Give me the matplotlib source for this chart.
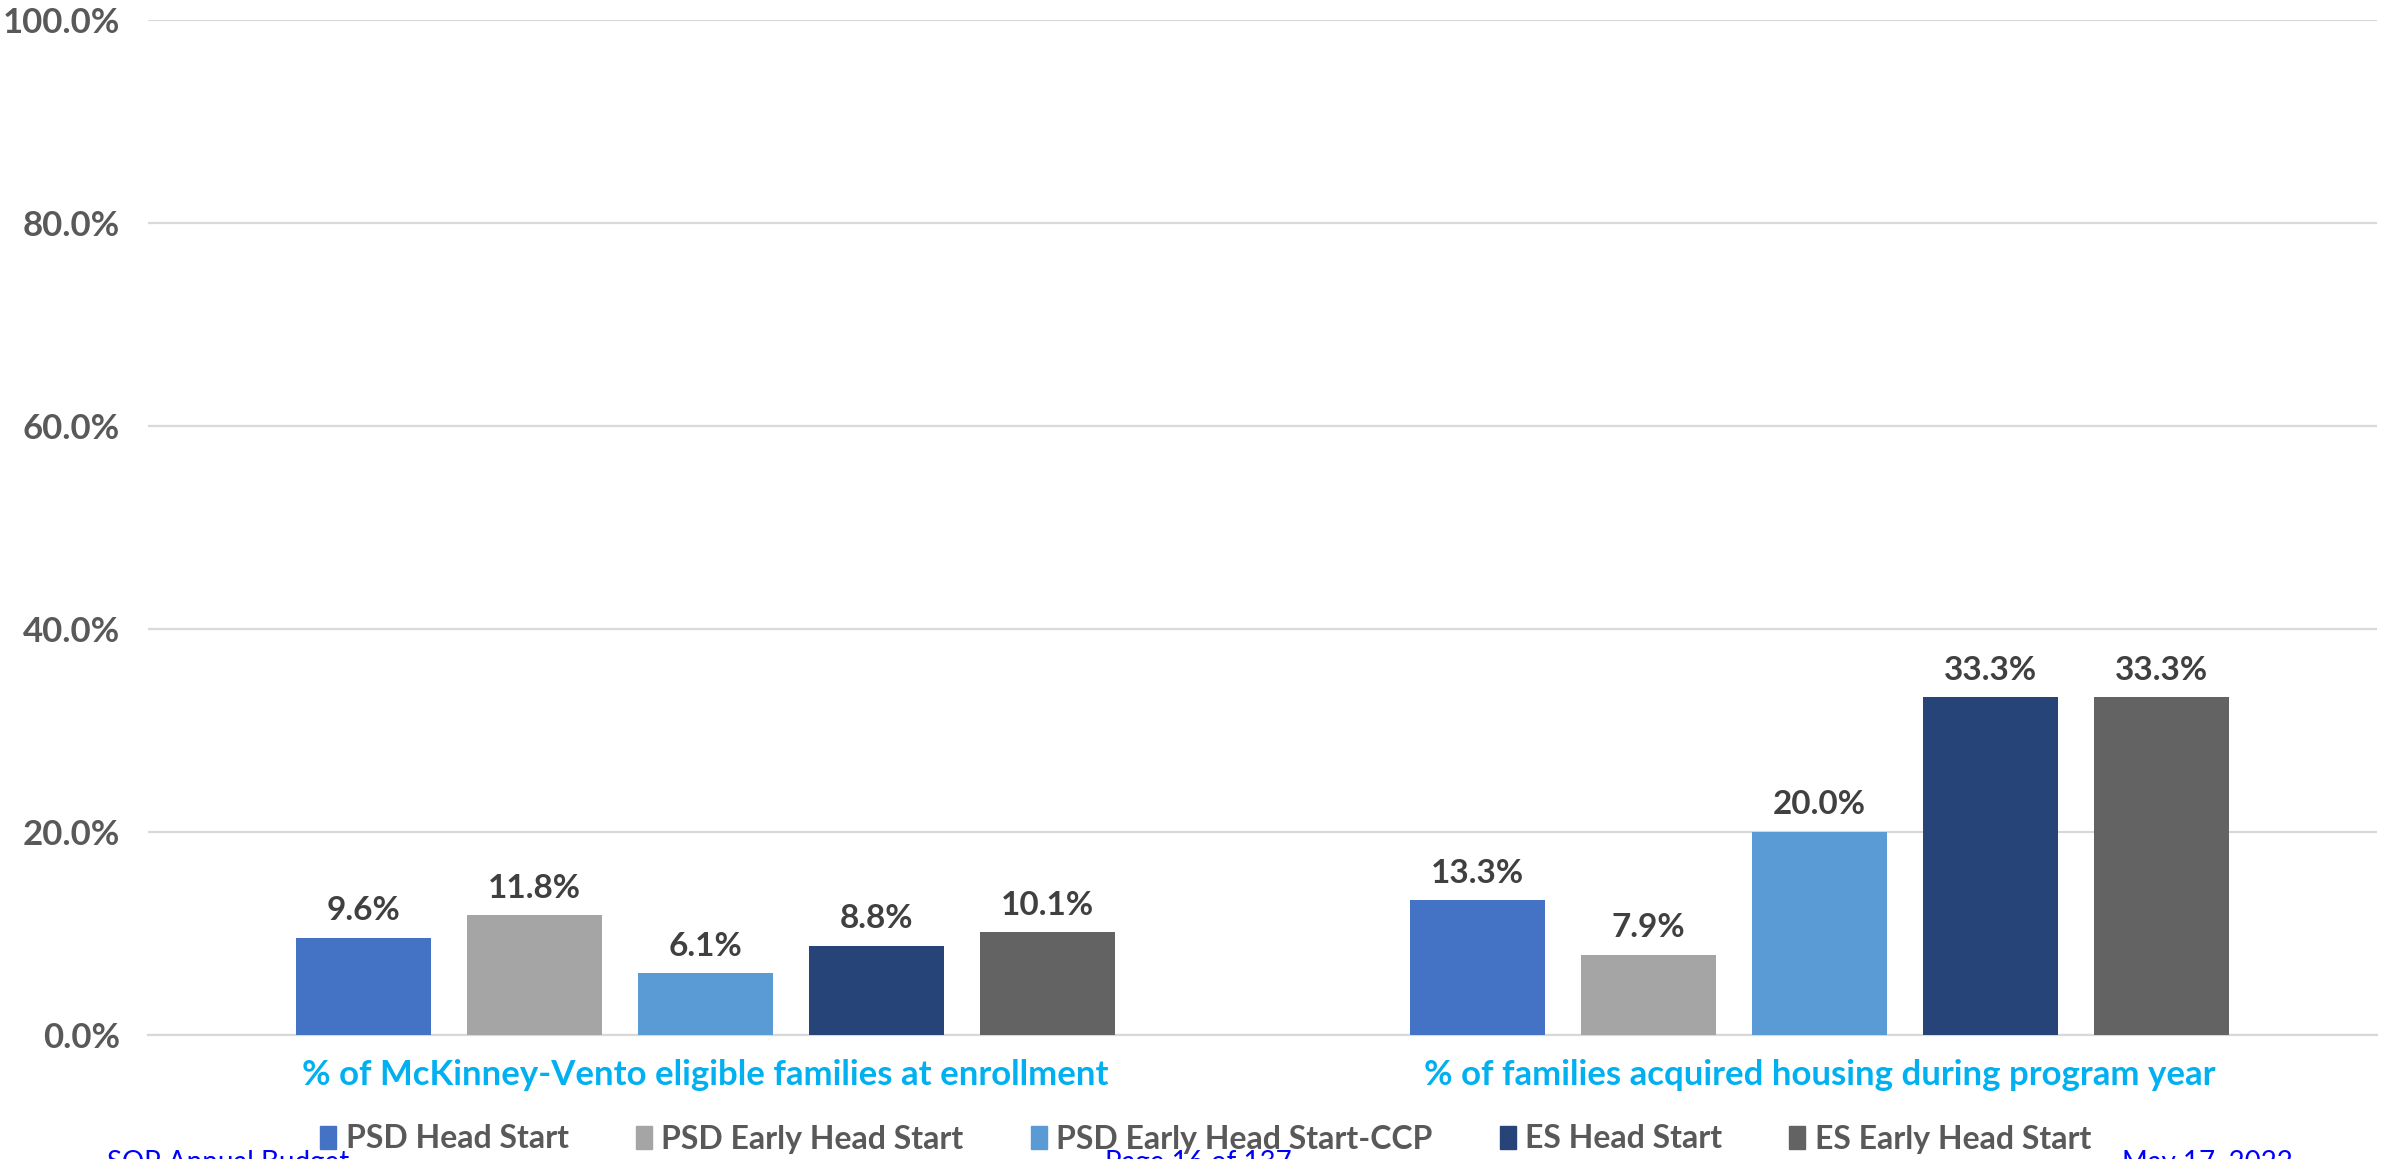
import matplotlib.pyplot as plt
from matplotlib.patches import Rectangle
import numpy as np

plt.rcParams['font.family'] = ['Lato', 'DejaVu Sans']

categories = ['% of McKinney-Vento eligible families at enrollment',
              '% of families acquired housing during program year']
series = ['PSD Head Start', 'PSD Early Head Start', 'PSD Early Head Start-CCP',
          'ES Head Start', 'ES Early Head Start']
values = {
    'PSD Head Start': [9.6, 13.3],
    'PSD Early Head Start': [11.8, 7.9],
    'PSD Early Head Start-CCP': [6.1, 20.0],
    'ES Head Start': [8.8, 33.3],
    'ES Early Head Start': [10.1, 33.3],
}
colors = ['#4472C4', '#A5A5A5', '#5B9BD5', '#264478', '#636363']
yticks = [0, 20, 40, 60, 80, 100]

W, H = 2397, 1159
fig = plt.figure(figsize=(W / 100, H / 100), dpi=100)
left, right = 148 / W, 2377 / W
top, bottom = 1 - 20 / H, 1 - 1035 / H
ax = fig.add_axes([left, bottom, right - left, top - bottom])

x = np.arange(len(categories))
step = 0.1534
width = 0.121
for i, s in enumerate(series):
    pos = x + (i - 2) * step
    bars = ax.bar(pos, values[s], width=width, color=colors[i], zorder=3)
    for b, v in zip(bars, values[s]):
        ax.annotate(f'{v:.1f}%', (b.get_x() + b.get_width() / 2, v),
                    xytext=(0, 9), textcoords='offset points',
                    ha='center', va='bottom', fontsize=24, fontweight='bold',
                    color='#404040')

ax.set_xlim(-0.5, 1.5)
ax.set_ylim(0, 100)
ax.set_yticks(yticks)
ax.set_yticklabels([f'{t:.1f}%' for t in yticks], fontsize=25,
                   fontweight='bold', color='#595959')
ax.tick_params(axis='y', length=0, pad=20)
ax.set_xticks(x)
ax.set_xticklabels(categories, fontsize=25, fontweight='bold', color='#00B0F0')
ax.tick_params(axis='x', length=0, pad=17)
ax.grid(axis='y', color='#D9D9D9', linewidth=1.6, zorder=0)
for sp in ['top', 'right', 'left']:
    ax.spines[sp].set_visible(False)
ax.spines['bottom'].set_color('#D9D9D9')
ax.spines['bottom'].set_linewidth(1.6)

handles = [Rectangle((0, 0), 1, 1, color=c) for c in colors]
fig.legend(handles, series, loc='center', bbox_to_anchor=(0.503, 1 - 1139 / H),
           ncol=5, frameon=False, handlelength=0.5,
           handleheight=0.7, handletextpad=0.3, columnspacing=2.1,
           prop={'weight': 'bold', 'size': 23}, labelcolor='#595959')

# page footer, mostly cut off at the bottom edge as in the source page
for fx, txt in [(107, 'SOP Annual Budget'), (1105, 'Page 16 of 137'),
                (2122, 'May 17, 2022')]:
    fig.text(fx / W, 1 - 1150 / H, txt, fontsize=20, color='#0000FF',
             va='top', ha='left', zorder=0)

fig.savefig('out.png', dpi=100)
